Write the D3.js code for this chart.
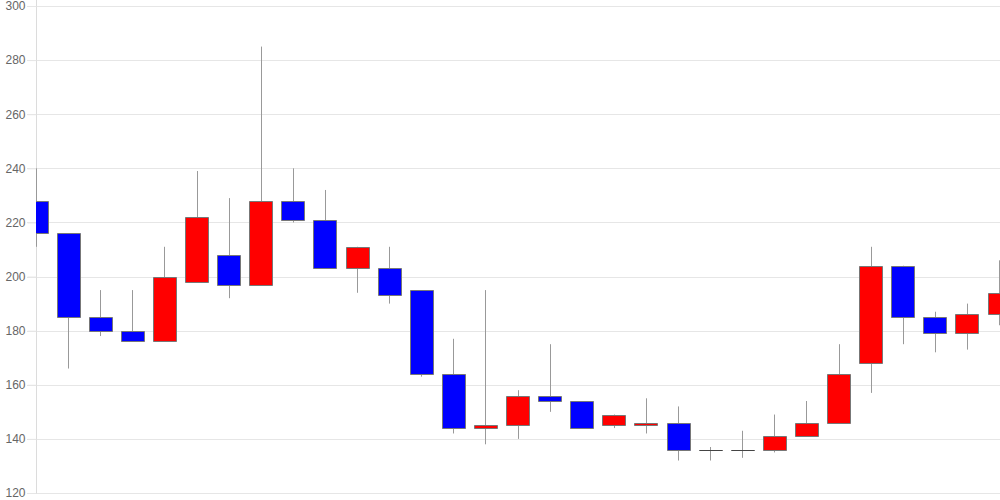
<!DOCTYPE html>
<html><head><meta charset="utf-8">
<script src="https://cdn.jsdelivr.net/npm/d3@7"></script>
<style>body{margin:0;background:#fff}svg{display:block}</style>
</head><body>
<svg id="c" width="1000" height="500"></svg>
<script>
const opens  = [228,216,185,180,176,198,208,197,228,221,203,203,195,164,144,145,156,154,145,145,146,136,136,136,141,146,168,204,185,179,186];
const closes = [216,185,180,176,200,222,197,228,221,203,211,193,164,144,145,156,154,144,149,146,136,136,136,141,146,164,204,185,179,186,194];
const highs  = [240,216,195,195,211,239,229,285,240,232,211,211,195,177,195,158,175,154,149,155,152,137,143,149,154,175,211,204,187,190,206];
const lows   = [211,166,178,176,176,198,192,197,220,203,194,190,163,142,138,140,150,144,144,142,132,132,133,135,141,146,157,175,172,173,182];
const yTicks = [120,140,160,180,200,220,240,260,280,300];

(function(){
const svg = d3.select("#c");
const pLeft = 36, pRight = 999, pTop = 6, pBottom = 493;
const idx = d3.range(opens.length);
const x = d3.scalePoint().domain(idx).range([pLeft, pRight]);
const y = d3.scaleLinear().domain([120,300]).range([pBottom, pTop]);
const bw = 23;

svg.append("defs").append("clipPath").attr("id","clip")
  .append("rect").attr("x",pLeft).attr("y",0).attr("width",1000-pLeft).attr("height",500);

// grid
svg.append("g").selectAll("line").data(yTicks).join("line")
  .attr("x1",27).attr("x2",1000)
  .attr("y1",d=>Math.round(y(d))+0.5).attr("y2",d=>Math.round(y(d))+0.5)
  .attr("stroke","#e6e6e6").attr("stroke-width",1);

// y axis
const ax = svg.append("g").attr("transform",`translate(${pLeft+0.5},0)`)
  .call(d3.axisLeft(y).tickValues(yTicks).tickSize(9).tickPadding(2));
ax.select(".domain").attr("stroke","#dcdcdc").attr("d",`M0,0V${pBottom+1}`);
ax.selectAll(".tick line").attr("stroke","#e6e6e6");
ax.selectAll("text").attr("fill","#666").style("font-family","'Liberation Sans',Arial,sans-serif").style("font-size","12px");

const g = svg.append("g").attr("clip-path","url(#clip)");
// wicks
g.selectAll("line.w").data(idx).join("line").attr("class","w")
  .attr("x1",i=>Math.round(x(i))+0.5).attr("x2",i=>Math.round(x(i))+0.5)
  .attr("y1",i=>y(highs[i])).attr("y2",i=>y(lows[i]))
  .attr("stroke","#999").attr("stroke-width",1);
// bodies
g.selectAll("path.b").data(idx).join("path").attr("class","b")
  .attr("d",i=>{
    const x0 = Math.round(x(i)-bw/2)+0.5;
    const y0 = Math.round(y(Math.max(opens[i],closes[i])))+0.5;
    const h = Math.round(y(Math.min(opens[i],closes[i])))-Math.round(y(Math.max(opens[i],closes[i])));
    return `M${x0},${y0}h${bw}v${h}h${-bw}Z`;
  })
  .attr("fill",i=>closes[i]>opens[i]?"#ff0000":"#0000ff")
  .attr("stroke",i=>opens[i]===closes[i]?"#444":"#777").attr("stroke-width",1);
})();
</script>
</body></html>
